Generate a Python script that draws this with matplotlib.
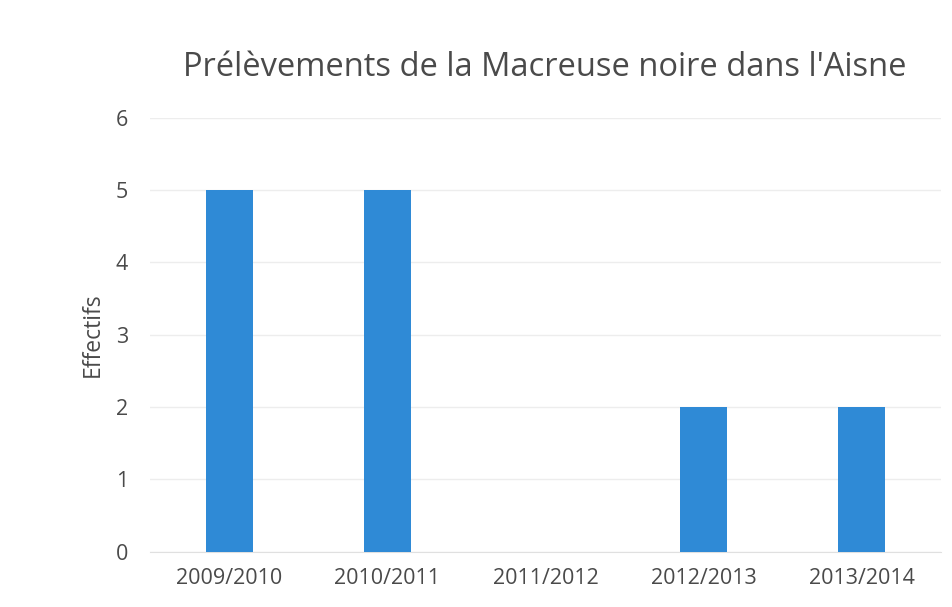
import matplotlib.pyplot as plt

saisons = ["2009/2010", "2010/2011", "2011/2012", "2012/2013", "2013/2014"]
effectifs = [5, 5, 0, 2, 2]

COULEUR_BARRE = "#2F8AD6"
COULEUR_TEXTE = "#4A4A4A"

plt.rcParams["font.family"] = ["Open Sans", "DejaVu Sans"]

fig = plt.figure(figsize=(9.52, 6.07), dpi=100)
ax = fig.add_axes([0.158, 0.091, 0.830, 0.715])

x = range(len(saisons))
ax.bar(x, effectifs, width=0.30, color=COULEUR_BARRE, zorder=3)

ax.set_xlim(-0.5, len(saisons) - 0.5)
ax.set_ylim(0, 6)
ax.set_yticks(range(0, 7))
ax.set_xticks(list(x))
ax.set_xticklabels(saisons)
ax.yaxis.grid(True, color="#EDEDED", linewidth=1, zorder=0)
ax.tick_params(axis="both", length=0, labelsize=15.5, colors=COULEUR_TEXTE)
ax.tick_params(axis="x", pad=12)
ax.tick_params(axis="y", pad=16)
for cote in ["top", "right", "left"]:
    ax.spines[cote].set_visible(False)
ax.spines["bottom"].set_color("#E0E0E0")

ax.set_ylabel("Effectifs", fontsize=16.5, color=COULEUR_TEXTE, labelpad=8)
fig.text(0.572, 0.889, "Prélèvements de la Macreuse noire dans l'Aisne",
         ha="center", va="center", fontsize=23.5, color=COULEUR_TEXTE)

fig.savefig("out.png", dpi=100, facecolor="white")
